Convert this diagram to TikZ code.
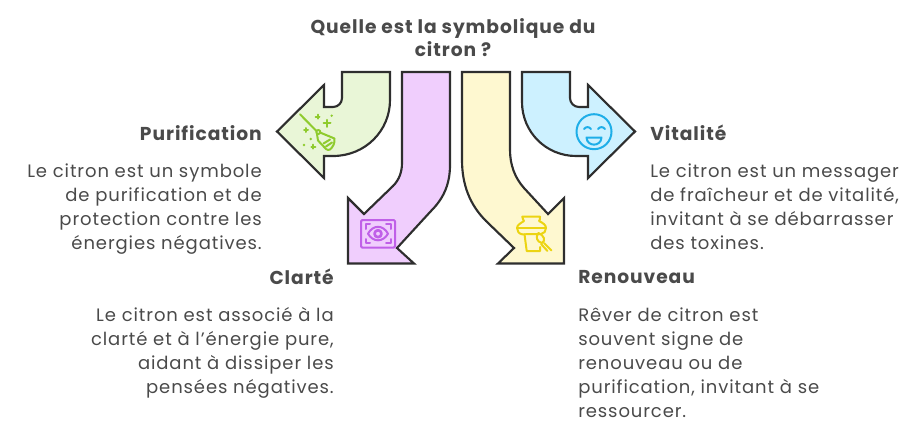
\documentclass[tikz,border=0pt]{standalone}
\usepackage{fontspec}
\setmainfont[LetterSpace=5]{Poppins}
\definecolor{inkline}{HTML}{2E2E2E}
\definecolor{inktext}{HTML}{4A4A4A}
\definecolor{greenfill}{HTML}{E9F6D7}
\definecolor{purplefill}{HTML}{F0CEFD}
\definecolor{yellowfill}{HTML}{FEF8D0}
\definecolor{bluefill}{HTML}{CDF1FF}
\definecolor{greenicon}{HTML}{8FCB2E}
\definecolor{purpleicon}{HTML}{C060E8}
\definecolor{yellowicon}{HTML}{ECD412}
\definecolor{blueicon}{HTML}{1EAEE8}
\tikzset{
  arrowshape/.style={draw=inkline,line width=1.6pt,line join=miter},
  iconline/.style={line width=1.5pt,line cap=round,line join=round},
  headtext/.style={inner sep=0pt,text=inktext,font=\fontsize{14}{17.5}\selectfont\bfseries},
  bodytext/.style={inner sep=0pt,text=inktext,font=\fontsize{13.5}{18}\selectfont}
}
\begin{document}
\begin{tikzpicture}[x=0.75pt,y=-0.75pt]
  \useasboundingbox (0,0) rectangle (924,432);
  % arrows
  \draw[arrowshape,fill=greenfill] (342,72) -- (390,72) -- (390,100)
    .. controls (390,131) and (365,156) .. (333,156) -- (324,156) -- (324,178)
    -- (277,131.5) -- (324,85) -- (324,107) -- (333,107)
    .. controls (338,107) and (342,103) .. (342,98) -- cycle;
  \draw[arrowshape,fill=purplefill] (402,72) -- (450,72) -- (450,165)
    .. controls (450,185) and (443,199) .. (431,211) -- (397,248) -- (414,263.5)
    -- (348,263.5) -- (348,198) -- (364,214) -- (393,186)
    .. controls (399,180) and (402,172) .. (402,163) -- cycle;
  \draw[arrowshape,fill=yellowfill] (462,72) -- (510,72) -- (510,150)
    .. controls (510,165) and (515,178) .. (524,188) -- (548,214) -- (564,198)
    -- (564,263.5) -- (498,263.5) -- (514,248) -- (486,221)
    .. controls (470,205) and (462,185) .. (462,160) -- cycle;
  \draw[arrowshape,fill=bluefill] (522,72) -- (570,72) -- (570,98)
    .. controls (570,103) and (574,107) .. (579,107) -- (588,107) -- (588,85)
    -- (635,131.5) -- (588,178) -- (588,156) -- (576,156)
    .. controls (546,156) and (522,132) .. (522,102) -- cycle;
  % broom
  \begin{scope}[iconline,draw=greenicon]
    \draw (300,114.3) -- (316.5,131);
    \draw (318.3,132) circle (2);
    \draw (320,132.5) -- (334.5,138.5) .. controls (335,143) and (333,147) .. (330,149.5)
      .. controls (329,150.5) and (327,150) .. (326,149) -- (318,140.5) -- (317,134);
    \draw (323.5,143.5) -- (330,139.5);
    \draw (326,146.5) -- (332,142.5);
    \draw (315.5,116.7) -- (319.5,116.7) (317.5,114.7) -- (317.5,118.7);
    \draw (323.5,123.3) -- (330.5,123.3) (327,119.8) -- (327,126.8);
    \draw (304,130) -- (308,130) (306,128) -- (306,132);
    \draw (311.3,146.7) -- (315.3,146.7) (313.3,144.7) -- (313.3,148.7);
    \fill[greenicon] (331.7,115.7) circle (1.3) (310.7,139) circle (1.3) (304,145) circle (1.3);
  \end{scope}
  % eye
  \begin{scope}[iconline,draw=purpleicon]
    \draw[rounded corners=1pt] (361,220) rectangle (395,247.7);
    \draw (365.7,229) -- (365.7,224) -- (370,224) (386,224) -- (390.7,224) -- (390.7,229);
    \draw (365.7,239) -- (365.7,243.3) -- (370,243.3) (386,243.3) -- (390.7,243.3) -- (390.7,239);
    \draw (368,233.7) .. controls (373,224.5) and (383,224.5) .. (388,233.7)
      .. controls (383,242.5) and (373,242.5) .. (368,233.7) -- cycle;
    \draw[line width=2pt] (378,233.7) circle (3.5);
  \end{scope}
  % pot
  \begin{scope}[iconline,draw=yellowicon]
    \draw (522.3,216.7) -- (540,216.7) .. controls (541,219) and (539,220) .. (539,221)
      .. controls (543,223) and (546,225) .. (546,228) .. controls (546,231) and (544,234) .. (541,234)
      -- (522.3,234.3) .. controls (519,234) and (517,231) .. (517,228)
      .. controls (517,225) and (521,223) .. (524,221) .. controls (524,220) and (522,219) .. (522.3,216.7) -- cycle;
    \draw (517,228) -- (546,228);
    \draw (524.5,234.3) -- (526.7,251) -- (540,251) -- (540,247);
    \draw (538.5,233) .. controls (544,235) and (546,241) .. (542,243)
      .. controls (537,242) and (535,237) .. (538.5,233) -- cycle;
    \draw (544,243) -- (551.5,250.5);
    \draw (541,244) -- (547.5,251);
  \end{scope}
  % smiley
  \begin{scope}[iconline,draw=blueicon]
    \draw (594,131.7) circle (17.5);
    \draw (584,129) .. controls (586,126.5) and (589,126.5) .. (591,129);
    \draw (598,129) .. controls (600,126.5) and (603,126.5) .. (605,129);
    \draw (586.5,137.5) -- (601.5,137.5) .. controls (601,147) and (587,147) .. (586.5,137.5) -- cycle;
  \end{scope}
  % texts
  \node[headtext,align=center,anchor=north] (title) at (453,18) {Quelle est la symbolique du\\citron ?};
  \node[headtext,anchor=east] (purifhead) at (262,133) {Purification};
  \node[bodytext,align=right,anchor=north east] (purifbody) at (262,163.5) {Le citron est un symbole\\de purification et de\\protection contre les\\énergies négatives.};
  \node[headtext,anchor=east] (clartehead) at (334,277) {Clarté};
  \node[bodytext,align=right,anchor=north east] (clartebody) at (334,307.5) {Le citron est associé à la\\clarté et à l'énergie pure,\\aidant à dissiper les\\pensées négatives.};
  \node[headtext,anchor=west] (vitalhead) at (650,133) {Vitalité};
  \node[bodytext,align=left,anchor=north west] (vitalbody) at (650,163.5) {Le citron est un messager\\de fraîcheur et de vitalité,\\invitant à se débarrasser\\des toxines.};
  \node[headtext,anchor=west] (renouvhead) at (578,277) {Renouveau};
  \node[bodytext,align=left,anchor=north west] (renouvbody) at (578,307.5) {Rêver de citron est\\souvent signe de\\renouveau ou de\\purification, invitant à se\\ressourcer.};
\end{tikzpicture}
\end{document}
